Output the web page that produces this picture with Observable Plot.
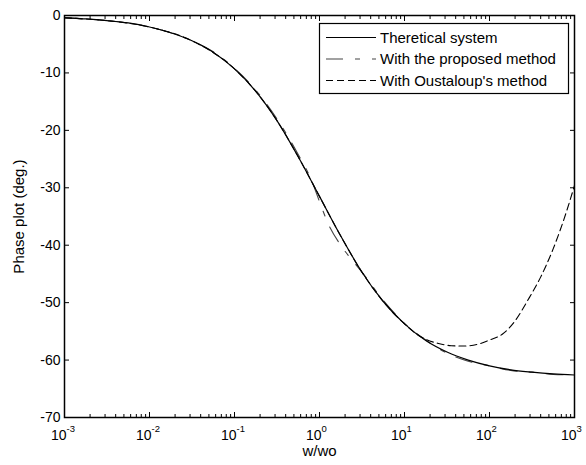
<!DOCTYPE html>
<html><head><meta charset="utf-8">
<script src="https://cdn.jsdelivr.net/npm/d3@7"></script>
<script src="https://cdn.jsdelivr.net/npm/@observablehq/plot@0.6"></script>
<style>body{margin:0;background:#fff}</style>
</head><body><div id="chart"></div>
<script>
// Frequencies (w/wo) and phases (deg.)
const wTheory = [0.001,0.00178,0.00316,0.00562,0.01,0.0178,0.0316,0.0562,0.1,0.178,0.316,0.562,1,1.778,3.162,5.623,10,17.78,31.62,56.23,100,177.8,316.2,562.3,1000];
const phaseTheory = [-0.4,-0.6,-0.9,-1.3,-2.0,-3.0,-4.4,-6.4,-9.3,-13.2,-18.3,-24.6,-31.5,-38.4,-44.7,-49.8,-53.7,-56.6,-58.6,-60.0,-61.0,-61.7,-62.1,-62.4,-62.6];

const wProposed = [0.001,0.00316,0.01,0.0316,0.0562,0.1,0.178,0.316,0.562,0.794,1,1.259,1.778,2.512,3.162,5.623,10,17.78,31.62,56.23,100,177.8,316.2,562.3,1000];
const phaseProposed = [-0.4,-0.9,-2.0,-4.4,-6.3,-9.2,-13.0,-18.0,-24.2,-28.5,-32.4,-36.2,-40.0,-42.9,-44.7,-49.6,-53.6,-56.5,-58.8,-60.2,-61.0,-61.8,-62.1,-62.5,-62.6];

const wOust = [0.001,0.00316,0.01,0.0316,0.1,0.178,0.316,0.562,1,1.778,3.162,5.623,10,12.59,17.78,25.12,35.48,50.12,70.79,100,141.3,199.5,281.8,398.1,562.3,794.3,1000];
const phaseOust = [-0.4,-0.9,-2.0,-4.4,-9.3,-13.2,-18.3,-24.6,-31.5,-38.4,-44.7,-49.8,-53.7,-55.0,-56.4,-57.1,-57.5,-57.55,-57.3,-56.5,-55.5,-53.2,-49.6,-45.6,-40.6,-34.4,-29.6];

const yTicks = [0,-10,-20,-30,-40,-50,-60,-70];
const xMajor = [0.001,0.01,0.1,1,10,100,1000];
const xExponents = ["-3","-2","-1","0","1","2","3"];
const xMinor = [0.002,0.003,0.004,0.005,0.006,0.007,0.008,0.009,
  0.02,0.03,0.04,0.05,0.06,0.07,0.08,0.09,
  0.2,0.3,0.4,0.5,0.6,0.7,0.8,0.9,
  2,3,4,5,6,7,8,9,
  20,30,40,50,60,70,80,90,
  200,300,400,500,600,700,800,900];
const seriesNames = ["Theretical system","With the proposed method","With Oustaloup's method"];
const xLabel = "w/wo";
const yLabel = "Phase plot (deg.)";

const rows = (ws, ps) => ws.map((w, i) => ({w, p: ps[i]}));
const theory = rows(wTheory, phaseTheory);
const proposed = rows(wProposed, phaseProposed);
const oust = rows(wOust, phaseOust);

const font = "'Liberation Sans', Arial, Helvetica, sans-serif";
const styles = [
  {stroke: "#000", dash: null, width: 1.2},
  {stroke: "#444", dash: "17,12,5,12", width: 1.1},
  {stroke: "#000", dash: "7,4", width: 1.1}
];

const plot = Plot.plot({
  width: 586, height: 465,
  marginLeft: 64, marginRight: 12, marginTop: 15, marginBottom: 48,
  style: {fontFamily: font, fontSize: "14px", background: "#fff", color: "#000", overflow: "visible"},
  x: {type: "log", domain: [1e-3, 1e3], axis: null, label: null},
  y: {domain: [-70, 0], axis: null, label: null},
  marks: [
    Plot.line(proposed, {x: "w", y: "p", stroke: styles[1].stroke, strokeWidth: styles[1].width, strokeDasharray: styles[1].dash, curve: "monotone-x"}),
    Plot.line(oust, {x: "w", y: "p", stroke: styles[2].stroke, strokeWidth: styles[2].width, strokeDasharray: styles[2].dash, curve: "monotone-x"}),
    Plot.line(theory, {x: "w", y: "p", stroke: styles[0].stroke, strokeWidth: styles[0].width, curve: "monotone-x"}),
    Plot.frame({stroke: "#000", strokeWidth: 1.5}),
    Plot.axisX(xMajor, {anchor: "bottom", tickSize: -5, tickFormat: () => "", label: null}),
    Plot.axisX(xMajor, {anchor: "top", tickSize: -5, tickFormat: () => "", label: null}),
    Plot.axisX(xMinor, {anchor: "bottom", tickSize: -3, tickFormat: () => "", label: null}),
    Plot.axisX(xMinor, {anchor: "top", tickSize: -3, tickFormat: () => "", label: null}),
    Plot.axisY(yTicks, {anchor: "left", tickSize: -5, tickFormat: () => "", label: null}),
    Plot.axisY(yTicks, {anchor: "right", tickSize: -5, tickFormat: () => "", label: null}),
    Plot.axisY(yTicks, {anchor: "left", tickSize: 0, tickPadding: 4, tickFormat: d => String(d), fontSize: 14, label: null}),
    Plot.text(xMajor, {x: d => d, frameAnchor: "bottom", lineAnchor: "middle", text: () => "10", textAnchor: "end", dx: 2, dy: 18, fontSize: 14}),
    Plot.text(xMajor, {x: d => d, frameAnchor: "bottom", lineAnchor: "middle", text: (d, i) => xExponents[i], textAnchor: "start", dx: 2, dy: 11, fontSize: 9.5}),
    Plot.text([xLabel], {frameAnchor: "bottom", lineAnchor: "middle", text: d => d, dy: 34, fontSize: 15}),
    Plot.text([yLabel], {frameAnchor: "left", lineAnchor: "middle", textAnchor: "middle", text: d => d, rotate: -90, dx: -45, fontSize: 15})
  ]
});

// Legend box inside the plot area (top right)
const svg = d3.select(plot);
const g = svg.append("g").attr("font-family", font).attr("font-size", 15).attr("text-anchor", "start");
g.append("rect").attr("x", 319.5).attr("y", 23.5).attr("width", 249).attr("height", 70)
  .attr("fill", "#fff").attr("stroke", "#000").attr("stroke-width", 1.2);
seriesNames.forEach((name, i) => {
  const y = 37.5 + i * 21.5;
  const s = styles[i];
  g.append("line").attr("x1", 326).attr("x2", 376).attr("y1", y).attr("y2", y)
    .attr("stroke", s.stroke).attr("stroke-width", s.width).attr("stroke-dasharray", s.dash);
  g.append("text").attr("x", 380).attr("y", y).attr("dy", "0.35em")
    .attr("text-anchor", "start").attr("fill", "#000").text(name);
});

document.getElementById("chart").appendChild(plot);
</script>
</body></html>
